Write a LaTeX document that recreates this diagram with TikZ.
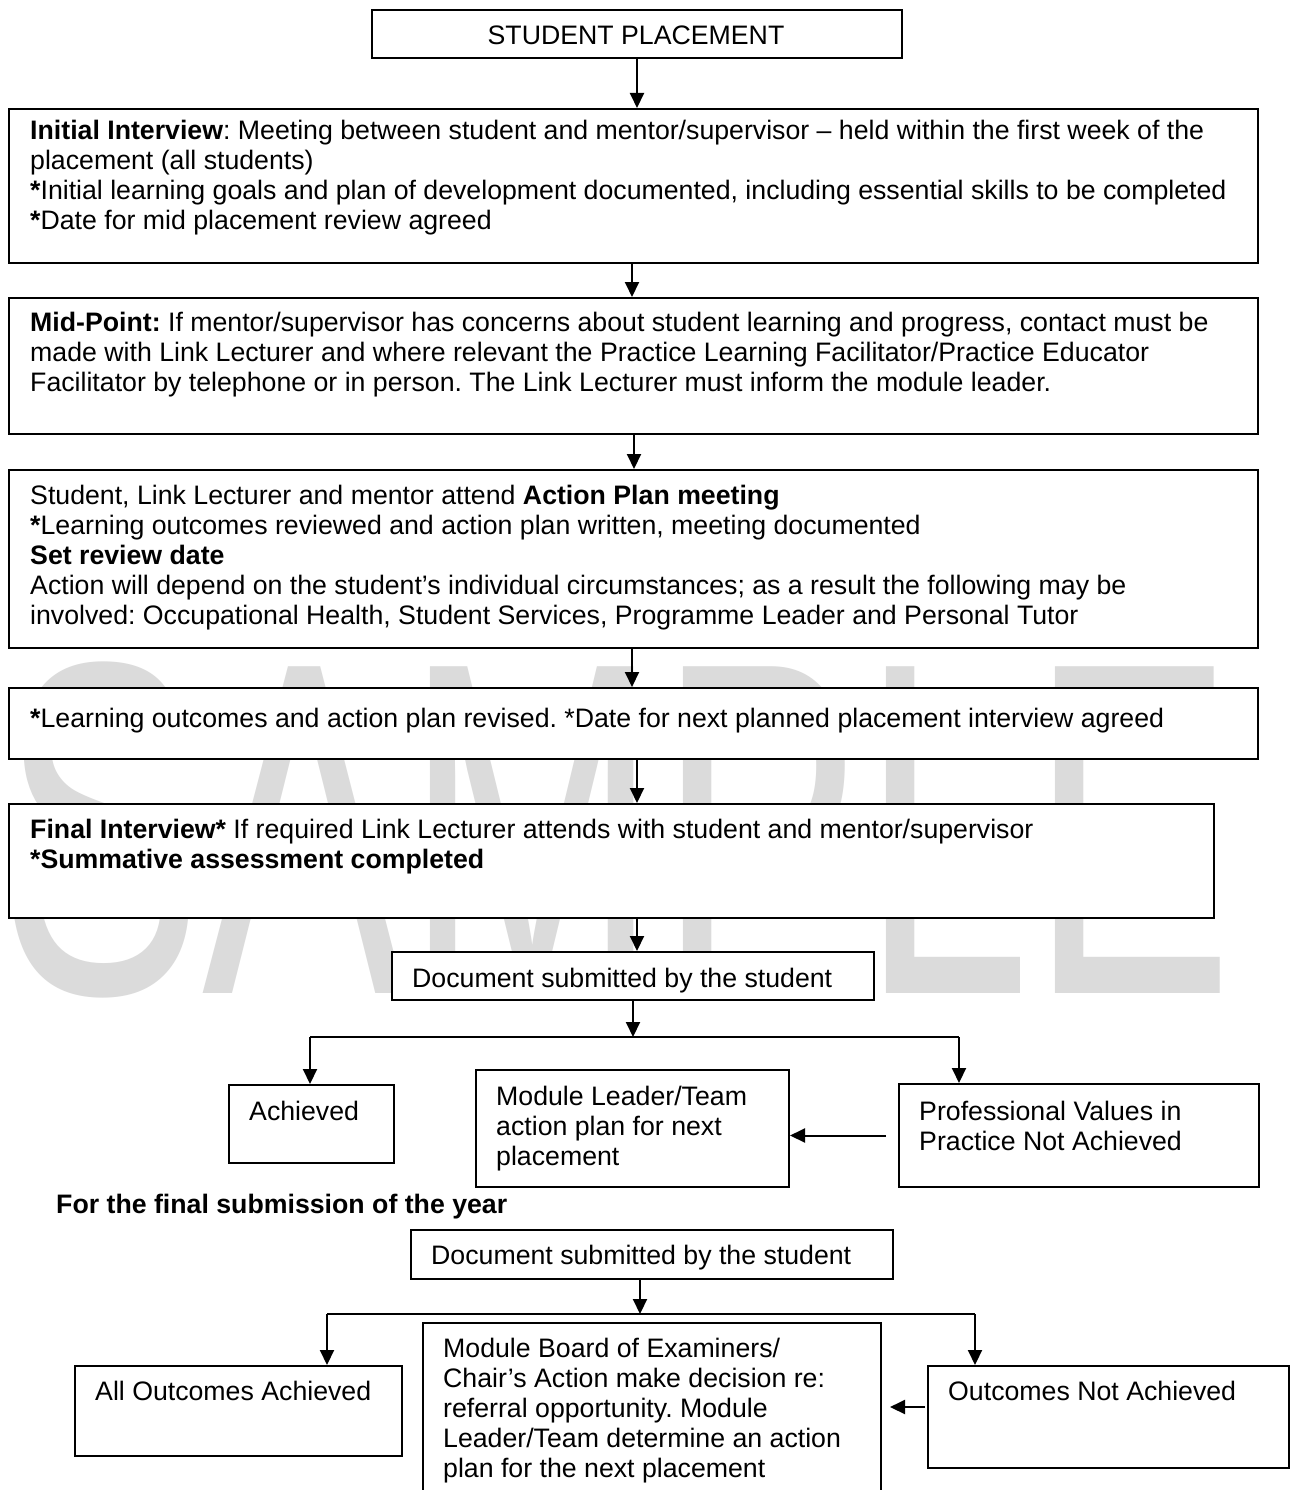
\documentclass[tikz,border=0pt]{standalone}
\usepackage{fontspec}
\setmainfont{Liberation Sans}
\usetikzlibrary{arrows.meta}
\newcommand\myfs{\fontsize{26.7}{30}\selectfont}
\frenchspacing
\begin{document}
\frenchspacing
\begin{tikzpicture}[x=1pt,y=-1pt,
  box/.style={draw=black, line width=2pt, fill=white, inner sep=0pt, anchor=north west},
  txt/.style={anchor=north west, inner sep=0pt, align=left, font=\myfs},
  arr/.style={line width=2pt, -{Triangle[length=15pt,width=14pt]}},
  ln/.style={line width=2pt}]
\useasboundingbox (0,0) rectangle (1290,1490);
\fill[white] (0,0) rectangle (1290,1490);
\clip (0,0) rectangle (1290,1490);
% watermark
\node[anchor=base west, inner sep=0pt, text=black!14, font=\fontsize{475}{475}\selectfont, xscale=0.64] (wm) at (0,993) {SAMPLE};
% boxes
\node[box, minimum width=530pt, minimum height=48pt] (b1) at (371,9) {};
\node[box, minimum width=1249pt, minimum height=154pt] (b2) at (8,108) {};
\node[box, minimum width=1249pt, minimum height=136pt] (b3) at (8,297) {};
\node[box, minimum width=1249pt, minimum height=178pt] (b4) at (8,469) {};
\node[box, minimum width=1249pt, minimum height=71pt] (b5) at (8,687) {};
\node[box, minimum width=1205pt, minimum height=114pt] (b6) at (8,803) {};
\node[box, minimum width=482pt, minimum height=48pt] (doc1) at (391,951) {};
\node[box, minimum width=165pt, minimum height=78pt] (ach) at (228,1084) {};
\node[box, minimum width=313pt, minimum height=117pt] (mlt) at (475,1069) {};
\node[box, minimum width=360pt, minimum height=103pt] (prof) at (898,1083) {};
\node[box, minimum width=482pt, minimum height=49pt] (doc2) at (410,1229) {};
\node[box, minimum width=327pt, minimum height=90pt] (allout) at (74,1365) {};
\node[box, minimum width=458pt, minimum height=190pt] (mboard) at (422,1322) {};
\node[box, minimum width=361pt, minimum height=102pt] (outnot) at (927,1365) {};
% texts
\node[anchor=base, inner sep=0pt, font=\myfs] (t1) at (636,45) {STUDENT PLACEMENT};
\node[txt] (t2) at (30,118) {\strut\textbf{Initial Interview}: Meeting between student and mentor/supervisor – held within the first week of the\\
placement (all students)\\
\textbf{*}Initial learning goals and plan of development documented, including essential skills to be completed\\
\textbf{*}Date for mid placement review agreed};
\node[txt] (t3) at (30,310) {\strut\textbf{Mid-Point:} If mentor/supervisor has concerns about student learning and progress, contact must be\\
made with Link Lecturer and where relevant the Practice Learning Facilitator/Practice Educator\\
Facilitator by telephone or in person. The Link Lecturer must inform the module leader.};
\node[txt] (t4) at (30,483) {\strut Student, Link Lecturer and mentor attend \textbf{Action Plan meeting}\\
\textbf{*}Learning outcomes reviewed and action plan written, meeting documented\\
\textbf{Set review date}\\
Action will depend on the student’s individual circumstances; as a result the following may be\\
involved: Occupational Health, Student Services, Programme Leader and Personal Tutor};
\node[txt] (t5) at (30,706) {\strut\textbf{*}Learning outcomes and action plan revised. *Date for next planned placement interview agreed};
\node[txt] (t6) at (30,817) {\strut\textbf{Final Interview*} If required Link Lecturer attends with student and mentor/supervisor\\
\textbf{*Summative assessment completed}};
\node[anchor=base west, inner sep=0pt, font=\myfs] (t7) at (412,987) {Document submitted by the student};
\node[anchor=base west, inner sep=0pt, font=\myfs] (t8) at (249,1120) {Achieved};
\node[txt] (t9) at (496,1084) {\strut Module Leader/Team\\action plan for next\\placement};
\node[txt] (t10) at (919,1099) {\strut Professional Values in\\Practice Not Achieved};
\node[anchor=base west, inner sep=0pt, font=\myfs\bfseries] (t11) at (56,1213) {For the final submission of the year};
\node[anchor=base west, inner sep=0pt, font=\myfs] (t12) at (431,1264) {Document submitted by the student};
\node[anchor=base west, inner sep=0pt, font=\myfs] (t13) at (95,1400) {All Outcomes Achieved};
\node[txt] (t14) at (443,1336) {\strut Module Board of Examiners/\\Chair’s Action make decision re:\\referral opportunity. Module\\Leader/Team determine an action\\plan for the next placement};
\node[anchor=base west, inner sep=0pt, font=\myfs] (t15) at (948,1400) {Outcomes Not Achieved};
% connectors
\draw[arr] (b1.south) -- (b1.south |- b2.north);
\draw[arr] ([xshift=-1.5pt]b2.south) -- ([xshift=-1.5pt]b2.south |- b3.north);
\draw[arr] ([xshift=0.5pt]b3.south) -- ([xshift=0.5pt]b3.south |- b4.north);
\draw[arr] ([xshift=-1.5pt]b4.south) -- ([xshift=-1.5pt]b4.south |- b5.north);
\draw[arr] ([xshift=3.5pt]b5.south) -- ([xshift=3.5pt]b5.south |- b6.north);
\draw[arr] ([xshift=4pt]doc1.north |- b6.south) -- ([xshift=4pt]doc1.north);
\coordinate (sL) at (310,1037);
\coordinate (sR) at (959,1037);
\draw[arr] (doc1.south) -- (doc1.south |- sL);
\draw[ln] (sL) -- (sR);
\draw[arr] (sL) -- (sL |- ach.north);
\draw[arr] (sR) -- (sR |- prof.north);
\draw[arr] ([xshift=-12pt]prof.west) -- (mlt.east |- prof.west);
\coordinate (tL) at (327,1314);
\coordinate (tR) at (975,1314);
\draw[arr] ([xshift=-12pt]doc2.south) -- ([xshift=-12pt]doc2.south |- tL);
\draw[ln] (tL) -- (tR);
\draw[arr] (tL) -- (tL |- allout.north);
\draw[arr] (tR) -- (tR |- outnot.north);
\coordinate (o1) at ([xshift=-2pt,yshift=10pt]outnot.west);
\draw[arr] (o1) -- ([xshift=8pt]mboard.east |- o1);
\end{tikzpicture}
\end{document}
